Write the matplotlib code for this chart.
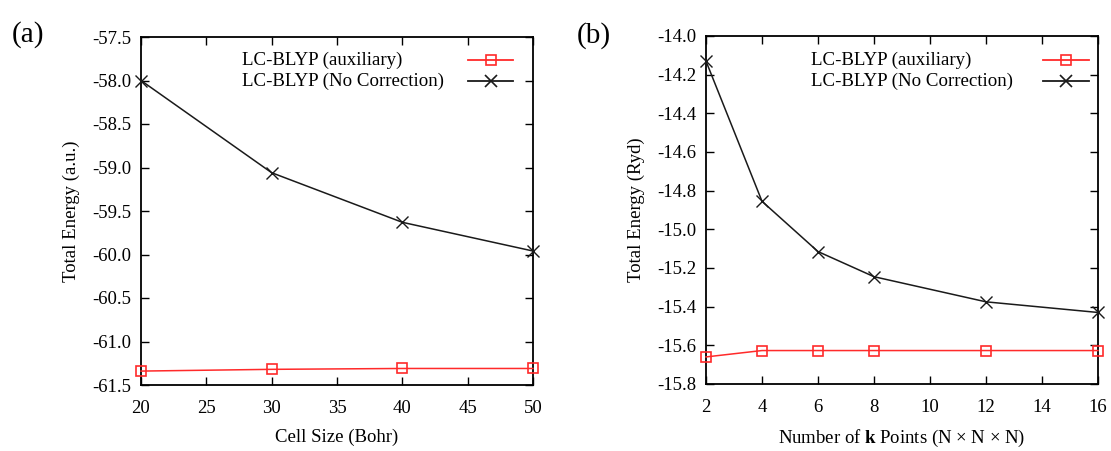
import matplotlib
matplotlib.use("Agg")
import matplotlib.pyplot as plt
from matplotlib.lines import Line2D

plt.rcParams['font.family'] = ['Liberation Serif', 'DejaVu Serif']
plt.rcParams['font.size'] = 13.5
plt.rcParams['axes.unicode_minus'] = False
plt.rcParams['mathtext.fontset'] = 'custom'
plt.rcParams['mathtext.rm'] = 'Liberation Serif'
plt.rcParams['mathtext.bf'] = 'Liberation Serif:bold'

# panel (a): cell size dependence
cell_size = [20, 30, 40, 50]
aux_a = [-61.34, -61.32, -61.31, -61.31]
nocorr_a = [-58.0, -59.06, -59.63, -59.96]

# panel (b): k-point dependence
kpts = [2, 4, 6, 8, 12, 16]
aux_b = [-15.66, -15.627, -15.627, -15.627, -15.627, -15.627]
nocorr_b = [-14.13, -14.855, -15.115, -15.245, -15.375, -15.43]

label_aux = "LC-BLYP (auxiliary)"
label_nc = "LC-BLYP (No Correction)"

RED = '#ff2a2a'
BLK = '#1a1a1a'
W, H = 1111, 451

fig = plt.figure(figsize=(11.11, 4.51), dpi=100)
ax1 = fig.add_axes([141/W, 66/H, 392/W, 348/H])
ax2 = fig.add_axes([706/W, 67/H, 392/W, 348/H])


def style(ax):
    ax.tick_params(direction='in', length=6, width=1.0, top=True, right=True,
                   labelsize=13.5)
    ax.tick_params(axis='x', pad=11)
    ax.tick_params(axis='y', pad=7)
    for s in ax.spines.values():
        s.set_linewidth(1.3)


def draw(ax, x, aux, nc, text_x, samp_x0, samp_x1):
    ax.plot(x, aux, color=RED, lw=1.1, marker='s', ms=7.5, mfc='none',
            mec=RED, mew=1.2, clip_on=False, zorder=3)
    ax.plot(x, nc, color=BLK, lw=1.1, marker='x', ms=9, mew=1.0,
            clip_on=False, zorder=3)
    # gnuplot-style key: left-aligned text, sample on the right
    rows = [(label_aux, RED, 's', 60), (label_nc, BLK, 'x', 81)]
    for lab, col, mk, ypx in rows:
        fy = 1 - ypx / H
        fig.text(text_x / W, fy, lab, ha='left', va='center', fontsize=13.6)
        fig.add_artist(Line2D([samp_x0 / W, samp_x1 / W], [fy, fy], color=col, lw=1.3,
                              transform=fig.transFigure))
        fig.add_artist(Line2D([(samp_x0 + samp_x1) / 2 / W], [fy], color=col, marker=mk,
                              ms=7.5 if mk == 's' else 9, mfc='none', mec=col, mew=1.2,
                              transform=fig.transFigure))


draw(ax1, cell_size, aux_a, nocorr_a, 242, 468, 513)
ax1.set_xlim(20, 50)
ax1.set_ylim(-61.5, -57.5)
ax1.set_xticks(range(20, 51, 5))
yt1 = [-61.5, -61.0, -60.5, -60.0, -59.5, -59.0, -58.5, -58.0, -57.5]
ax1.set_yticks(yt1)
ax1.set_yticklabels([f"{v:.1f}" for v in yt1])
ax1.set_xlabel("Cell Size (Bohr)", fontsize=13.5, labelpad=8)
ax1.set_ylabel("Total Energy (a.u.)", fontsize=13.5, labelpad=9)
style(ax1)

draw(ax2, kpts, aux_b, nocorr_b, 811, 1043, 1089)
ax2.set_xlim(2, 16)
ax2.set_ylim(-15.8, -14.0)
ax2.set_xticks(range(2, 17, 2))
yt2 = [-15.8, -15.6, -15.4, -15.2, -15.0, -14.8, -14.6, -14.4, -14.2, -14.0]
ax2.set_yticks(yt2)
ax2.set_yticklabels([f"{v:.1f}" for v in yt2])
ax2.set_xlabel(r"Number of $\mathbf{k}$ Points (N $\times$ N $\times$ N)", fontsize=13.5, labelpad=8)
ax2.set_ylabel("Total Energy (Ryd)", fontsize=13.5, labelpad=9)
style(ax2)

fig.text(28/W, 1 - 35/H, "(a)", fontsize=21, ha='center', va='center')
fig.text(594/W, 1 - 36/H, "(b)", fontsize=21, ha='center', va='center')

fig.savefig("out.png", dpi=100)
